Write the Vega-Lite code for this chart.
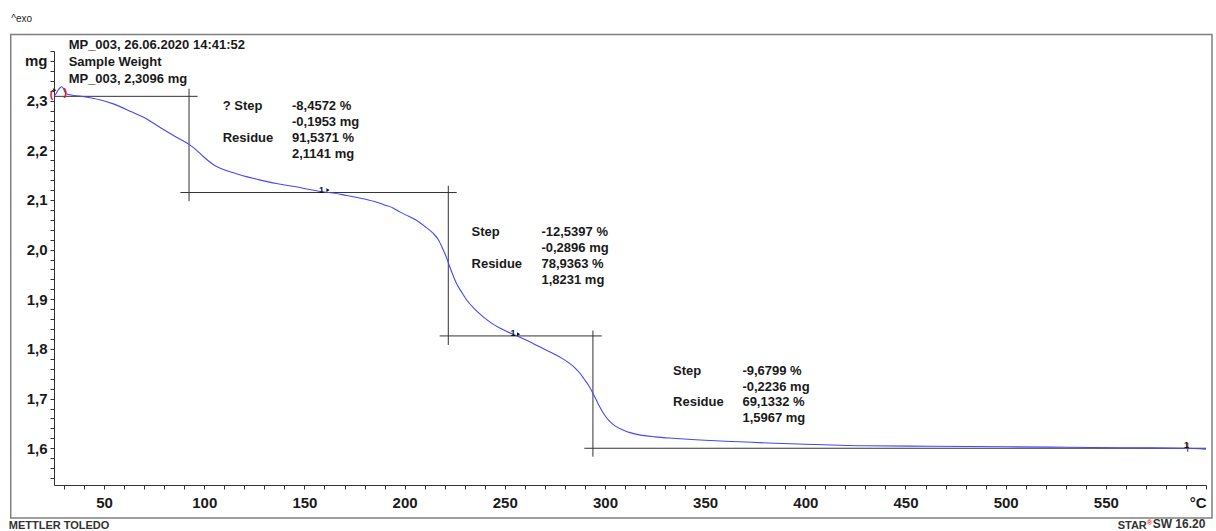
{
  "$schema": "https://vega.github.io/schema/vega-lite/v6.json",
  "width": 1152,
  "height": 434,
  "autosize": {"type": "none"},
  "padding": {"left": 54, "top": 51, "right": 10, "bottom": 46},
  "background": "white",
  "config": {
    "view": {"stroke": null},
    "font": "Liberation Sans",
    "axis": {"labelOverlap": false, "labelFlush": false, "labelBound": false, "grid": false, "title": null}
  },
  "datasets": {
    "curve": [
      {"T": 25.0, "m": 2.309}, {"T": 26.0, "m": 2.314}, {"T": 27.0, "m": 2.321}, {"T": 28.0, "m": 2.326},
      {"T": 28.8, "m": 2.328}, {"T": 29.6, "m": 2.325}, {"T": 30.3, "m": 2.319}, {"T": 31.3, "m": 2.314},
      {"T": 33, "m": 2.312}, {"T": 40, "m": 2.308}, {"T": 47.8, "m": 2.302}, {"T": 55, "m": 2.293},
      {"T": 64, "m": 2.277}, {"T": 70, "m": 2.266}, {"T": 78, "m": 2.246}, {"T": 85, "m": 2.229},
      {"T": 92.4, "m": 2.212}, {"T": 96, "m": 2.201}, {"T": 99.4, "m": 2.188}, {"T": 102, "m": 2.179},
      {"T": 105, "m": 2.17}, {"T": 108, "m": 2.164}, {"T": 112, "m": 2.158}, {"T": 116, "m": 2.153},
      {"T": 121, "m": 2.147}, {"T": 127, "m": 2.141},
      {"T": 136, "m": 2.133}, {"T": 145, "m": 2.127}, {"T": 152.6, "m": 2.121}, {"T": 160, "m": 2.116},
      {"T": 164.3, "m": 2.114}, {"T": 171, "m": 2.109}, {"T": 177.6, "m": 2.104}, {"T": 185, "m": 2.097},
      {"T": 190, "m": 2.09}, {"T": 194.2, "m": 2.084}, {"T": 197.6, "m": 2.076}, {"T": 202, "m": 2.067},
      {"T": 205.9, "m": 2.059}, {"T": 210, "m": 2.047}, {"T": 214.2, "m": 2.033}, {"T": 217, "m": 2.019},
      {"T": 219.2, "m": 2.0}, {"T": 221, "m": 1.983}, {"T": 222.5, "m": 1.966}, {"T": 224.2, "m": 1.948},
      {"T": 225.9, "m": 1.932}, {"T": 228.5, "m": 1.914}, {"T": 230.9, "m": 1.899}, {"T": 235, "m": 1.88},
      {"T": 239.1, "m": 1.865}, {"T": 243, "m": 1.853}, {"T": 247.5, "m": 1.842}, {"T": 251, "m": 1.835},
      {"T": 255, "m": 1.828}, {"T": 259.5, "m": 1.82}, {"T": 264.1, "m": 1.811}, {"T": 270, "m": 1.799},
      {"T": 275, "m": 1.789}, {"T": 279, "m": 1.78}, {"T": 282, "m": 1.772}, {"T": 285, "m": 1.762},
      {"T": 287.5, "m": 1.751}, {"T": 289.5, "m": 1.74}, {"T": 291.8, "m": 1.727}, {"T": 294, "m": 1.711},
      {"T": 295.7, "m": 1.697}, {"T": 297.3, "m": 1.684}, {"T": 299.8, "m": 1.667}, {"T": 302.4, "m": 1.654},
      {"T": 305, "m": 1.645}, {"T": 309, "m": 1.637}, {"T": 313, "m": 1.631}, {"T": 317.3, "m": 1.627},
      {"T": 325, "m": 1.623}, {"T": 334, "m": 1.62}, {"T": 350, "m": 1.616}, {"T": 367, "m": 1.613},
      {"T": 385, "m": 1.61}, {"T": 400, "m": 1.608}, {"T": 430, "m": 1.605}, {"T": 463, "m": 1.604},
      {"T": 500, "m": 1.603}, {"T": 530, "m": 1.602}, {"T": 560, "m": 1.601}, {"T": 590, "m": 1.6},
      {"T": 600, "m": 1.598}
    ],
    "frame": [{"T": 3.4, "T2": 603, "m": 2.433, "m2": 1.4593}],
    "rules": [
      {"T": 25, "T2": 96.7, "m": 2.3087, "m2": 2.3087},
      {"T": 92.4, "T2": 92.4, "m": 2.324, "m2": 2.0974},
      {"T": 88.1, "T2": 226.0, "m": 2.115, "m2": 2.115},
      {"T": 221.8, "T2": 221.8, "m": 2.1286, "m2": 1.808},
      {"T": 217.5, "T2": 298.4, "m": 1.8262, "m2": 1.8262},
      {"T": 294.0, "T2": 294.0, "m": 1.837, "m2": 1.583},
      {"T": 289.7, "T2": 600, "m": 1.6, "m2": 1.6},
      {"T": 590.9, "T2": 590.9, "m": 1.611, "m2": 1.593}
    ],
    "notes": [
      {"T": 32.3, "m": 2.4115, "text": "MP_003, 26.06.2020 14:41:52"},
      {"T": 32.3, "m": 2.378, "text": "Sample Weight"},
      {"T": 32.3, "m": 2.3444, "text": "MP_003, 2,3096 mg"},
      {"T": 109.2, "m": 2.2899, "text": "? Step"},
      {"T": 109.2, "m": 2.2254, "text": "Residue"},
      {"T": 143.8, "m": 2.2899, "text": "-8,4572 %"},
      {"T": 143.8, "m": 2.2577, "text": "-0,1953 mg"},
      {"T": 143.8, "m": 2.2254, "text": "91,5371 %"},
      {"T": 143.8, "m": 2.1931, "text": "2,1141 mg"},
      {"T": 233.4, "m": 2.0353, "text": "Step"},
      {"T": 233.4, "m": 1.9707, "text": "Residue"},
      {"T": 268.3, "m": 2.0353, "text": "-12,5397 %"},
      {"T": 268.3, "m": 2.003, "text": "-0,2896 mg"},
      {"T": 268.3, "m": 1.9707, "text": "78,9363 %"},
      {"T": 268.3, "m": 1.9385, "text": "1,8231 mg"},
      {"T": 334.0, "m": 1.7563, "text": "Step"},
      {"T": 334.0, "m": 1.6925, "text": "Residue"},
      {"T": 368.6, "m": 1.7563, "text": "-9,6799 %"},
      {"T": 368.6, "m": 1.724, "text": "-0,2236 mg"},
      {"T": 368.6, "m": 1.6925, "text": "69,1332 %"},
      {"T": 368.6, "m": 1.6603, "text": "1,5967 mg"}
    ],
    "ones": [
      {"T": 158.5, "m": 2.1206, "text": "1"},
      {"T": 254.1, "m": 1.8329, "text": "1"},
      {"T": 590.3, "m": 1.6075, "text": "1"}
    ],
    "arrows": [
      {"T": 161.8, "m": 2.12},
      {"T": 256.9, "m": 1.8296},
      {"T": 25.4, "m": 2.321}
    ],
    "brackets": [
      {"T": 23.8, "m": 2.312, "text": "("},
      {"T": 30.7, "m": 2.316, "text": ")"}
    ],
    "exo": [{"T": 3.7, "m": 2.4647, "text": "^exo"}],
    "footer": [
      {"T": 2.4, "m": 1.4563, "text": "METTLER TOLEDO"},
      {"T": 555.9, "m": 1.4563, "text": "STAR"}
    ],
    "footer2": [
      {"T": 573.4, "m": 1.4573, "text": "SW 16.20"}
    ],
    "reg": [{"T": 570.6, "m": 1.4583, "text": "®"}]
  },
  "layer": [
    {
      "data": {"name": "frame"},
      "mark": {"type": "rect", "fillOpacity": 0, "stroke": "#808080", "strokeWidth": 1.5},
      "encoding": {
        "x": {"field": "T", "type": "quantitative",
          "scale": {"domain": [25, 600], "nice": false, "zero": false},
          "axis": {
            "title": null, "grid": false, "tickCount": 1000,
            "values": [30,40,50,60,70,80,90,100,110,120,130,140,150,160,170,180,190,200,210,220,230,240,250,260,270,280,290,300,310,320,330,340,350,360,370,380,390,400,410,420,430,440,450,460,470,480,490,500,510,520,530,540,550,560,570,580,590,600],
            "labelExpr": "datum.value == 600 ? '°C' : (datum.value % 50 == 0 ? '' + datum.value : '')",
            "labelAlign": {"condition": {"test": "datum.value == 600", "value": "right"}, "value": "center"},
            "labelFont": "Liberation Sans", "labelFontWeight": "bold", "labelFontSize": 15, "labelColor": "#1a1a1a",
            "labelPadding": 6, "labelOverlap": false, "labelFlush": false, "labelBound": false,
            "tickSize": 4, "tickColor": "#333333", "tickWidth": 1,
            "domainColor": "#333333", "domainWidth": 1
          }
        },
        "x2": {"field": "T2"},
        "y": {"field": "m", "type": "quantitative",
          "scale": {"domain": [1.526, 2.4], "nice": false, "zero": false},
          "axis": {
            "title": null, "grid": false, "tickCount": 1000,
            "values": [1.54,1.56,1.58,1.6,1.62,1.64,1.66,1.68,1.7,1.72,1.74,1.76,1.78,1.8,1.82,1.84,1.86,1.88,1.9,1.92,1.94,1.96,1.98,2.0,2.02,2.04,2.06,2.08,2.1,2.12,2.14,2.16,2.18,2.2,2.22,2.24,2.26,2.28,2.3,2.32,2.34,2.36,2.38,2.4],
            "labelExpr": "abs(datum.value - 2.38) < 0.001 ? 'mg' : ((abs(datum.value * 10 - round(datum.value * 10)) < 0.001 && datum.value < 2.35) ? replace(format(datum.value, '.1f'), '.', ',') : '')",
            "labelFont": "Liberation Sans", "labelFontWeight": "bold", "labelFontSize": 15, "labelColor": "#1a1a1a",
            "labelPadding": 3, "labelOverlap": false, "labelFlush": false, "labelBound": false,
            "tickSize": 4, "tickColor": "#333333", "tickWidth": 1,
            "domainColor": "#333333", "domainWidth": 1
          }
        },
        "y2": {"field": "m2"}
      }
    },
    {
      "data": {"name": "rules"},
      "mark": {"type": "rule", "color": "#333333", "strokeWidth": 1},
      "encoding": {
        "x": {"field": "T", "type": "quantitative"},
        "x2": {"field": "T2"},
        "y": {"field": "m", "type": "quantitative"},
        "y2": {"field": "m2"}
      }
    },
    {
      "data": {"name": "curve"},
      "mark": {"type": "line", "color": "#4646ff", "strokeWidth": 1.1, "interpolate": "monotone"},
      "encoding": {
        "x": {"field": "T", "type": "quantitative"},
        "y": {"field": "m", "type": "quantitative"}
      }
    },
    {
      "data": {"name": "notes"},
      "mark": {"type": "text", "align": "left", "baseline": "middle", "font": "Liberation Sans", "fontWeight": "bold", "fontSize": 13, "color": "#1a1a1a"},
      "encoding": {
        "x": {"field": "T", "type": "quantitative"},
        "y": {"field": "m", "type": "quantitative"},
        "text": {"field": "text"}
      }
    },
    {
      "data": {"name": "ones"},
      "mark": {"type": "text", "align": "center", "baseline": "middle", "font": "Liberation Sans", "fontWeight": "bold", "fontSize": 9, "color": "#111111"},
      "encoding": {
        "x": {"field": "T", "type": "quantitative"},
        "y": {"field": "m", "type": "quantitative"},
        "text": {"field": "text"}
      }
    },
    {
      "data": {"name": "arrows"},
      "mark": {"type": "point", "shape": "triangle-right", "filled": true, "size": 14, "color": "#111111", "opacity": 1},
      "encoding": {
        "x": {"field": "T", "type": "quantitative"},
        "y": {"field": "m", "type": "quantitative"}
      }
    },
    {
      "data": {"name": "brackets"},
      "mark": {"type": "text", "align": "center", "baseline": "middle", "font": "Liberation Sans", "fontWeight": "bold", "fontSize": 11, "color": "#e8141c"},
      "encoding": {
        "x": {"field": "T", "type": "quantitative"},
        "y": {"field": "m", "type": "quantitative"},
        "text": {"field": "text"}
      }
    },
    {
      "data": {"name": "exo"},
      "mark": {"type": "text", "align": "left", "baseline": "middle", "font": "Liberation Sans", "fontSize": 10, "color": "#222222"},
      "encoding": {
        "x": {"field": "T", "type": "quantitative"},
        "y": {"field": "m", "type": "quantitative"},
        "text": {"field": "text"}
      }
    },
    {
      "data": {"name": "footer"},
      "mark": {"type": "text", "align": "left", "baseline": "top", "font": "Liberation Sans", "fontWeight": "bold", "fontSize": 11, "color": "#333333"},
      "encoding": {
        "x": {"field": "T", "type": "quantitative"},
        "y": {"field": "m", "type": "quantitative"},
        "text": {"field": "text"}
      }
    },
    {
      "data": {"name": "footer2"},
      "mark": {"type": "text", "align": "left", "baseline": "top", "font": "Liberation Sans", "fontWeight": "bold", "fontSize": 12, "color": "#333333"},
      "encoding": {
        "x": {"field": "T", "type": "quantitative"},
        "y": {"field": "m", "type": "quantitative"},
        "text": {"field": "text"}
      }
    },
    {
      "data": {"name": "reg"},
      "mark": {"type": "text", "align": "left", "baseline": "top", "font": "Liberation Sans", "fontWeight": "bold", "fontSize": 7, "color": "#e8141c"},
      "encoding": {
        "x": {"field": "T", "type": "quantitative"},
        "y": {"field": "m", "type": "quantitative"},
        "text": {"field": "text"}
      }
    }
  ]
}
